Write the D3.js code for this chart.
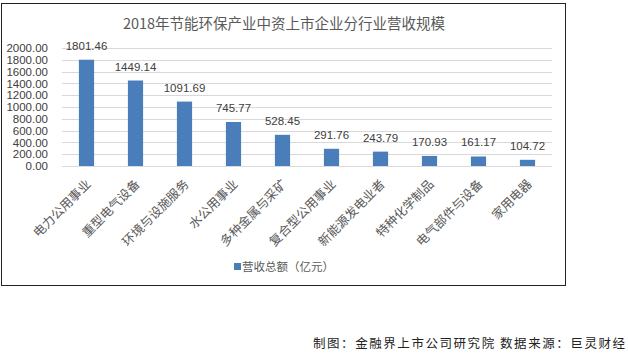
<!DOCTYPE html>
<html><head><meta charset="utf-8">
<script src="https://cdn.jsdelivr.net/npm/d3@7"></script>
<style>body{margin:0;background:#fff}svg{display:block}</style>
</head><body>
<svg id="c" width="628" height="355"></svg>
<script>
const categories = ["电力公用事业","重型电气设备","环境与设施服务","水公用事业","多种金属与采矿","复合型公用事业","新能源发电业者","特种化学制品","电气部件与设备","家用电器"];
const values = [1801.46,1449.14,1091.69,745.77,528.45,291.76,243.79,170.93,161.17,104.72];
const yTicks = [0,200,400,600,800,1000,1200,1400,1600,1800,2000];
const title = "2018年节能环保产业中资上市企业分行业营收规模";
const legendLabel = "营收总额（亿元）";
const footer = "制图：金融界上市公司研究院 数据来源：巨灵财经";

const svg = d3.select("#c");
const cjk = "'Noto Sans CJK SC', sans-serif";
const num = "'Liberation Sans', Arial, sans-serif";

// frame
svg.append("rect").attr("x",1.5).attr("y",3.5).attr("width",564).attr("height",282)
  .attr("fill","#fff").attr("stroke","#222").attr("stroke-width",1);

const x = d3.scaleBand().domain(categories).range([62,552]).paddingInner(0.69).paddingOuter(0.345);
const y = d3.scaleLinear().domain([0,2000]).range([166,48]);

// gridlines
svg.append("g").selectAll("line").data(yTicks).join("line")
  .attr("x1",62).attr("x2",552).attr("y1",d=>Math.round(y(d))+0.5).attr("y2",d=>Math.round(y(d))+0.5)
  .attr("stroke","#d9d9d9").attr("stroke-width",1);

// y axis labels
const yAxis = d3.axisLeft(y).tickValues(yTicks).tickFormat(d=>d3.format(".2f")(d)).tickSize(0).tickPadding(0);
const ga = svg.append("g").attr("transform","translate(48,0)").call(yAxis);
ga.select(".domain").remove();
ga.selectAll("text").attr("font-family",num).attr("font-size","11.5px").attr("fill","#404040");

// bars
svg.append("g").selectAll("rect").data(values).join("rect")
  .attr("x",(d,i)=>x(categories[i])).attr("width",x.bandwidth())
  .attr("y",d=>y(d)).attr("height",d=>y(0)-y(d)).attr("fill","#4a7ebb");

// value labels
svg.append("g").selectAll("text").data(values).join("text")
  .attr("x",(d,i)=>x(categories[i])+x.bandwidth()/2).attr("y",d=>y(d)-10)
  .attr("text-anchor","middle").attr("font-family",num).attr("font-size","11.5px").attr("fill","#404040")
  .text(d=>d3.format(".2f")(d));

// x labels
svg.append("g").selectAll("text").data(categories).join("text")
  .attr("transform",d=>`translate(${x(d)+x.bandwidth()/2+5},${185}) rotate(-45)`)
  .attr("text-anchor","end").attr("font-family",cjk).attr("font-size","12.5px").attr("fill","#595959")
  .text(d=>d);

// title
svg.append("text").attr("x",284).attr("y",29).attr("text-anchor","middle")
  .attr("font-family",cjk).attr("font-size","14.5px").attr("fill","#595959").text(title);

// legend
svg.append("rect").attr("x",234).attr("y",263).attr("width",7).attr("height",7).attr("fill","#4a7ebb");
svg.append("text").attr("x",242).attr("y",271).attr("font-family",cjk).attr("font-size","11.5px").attr("fill","#595959").text(legendLabel);

// footer
svg.append("text").attr("x",313).attr("y",348).attr("textLength",312).attr("lengthAdjust","spacing")
  .attr("font-family",cjk).attr("font-size","12.5px").attr("fill","#222").text(footer);
</script>
</body></html>
